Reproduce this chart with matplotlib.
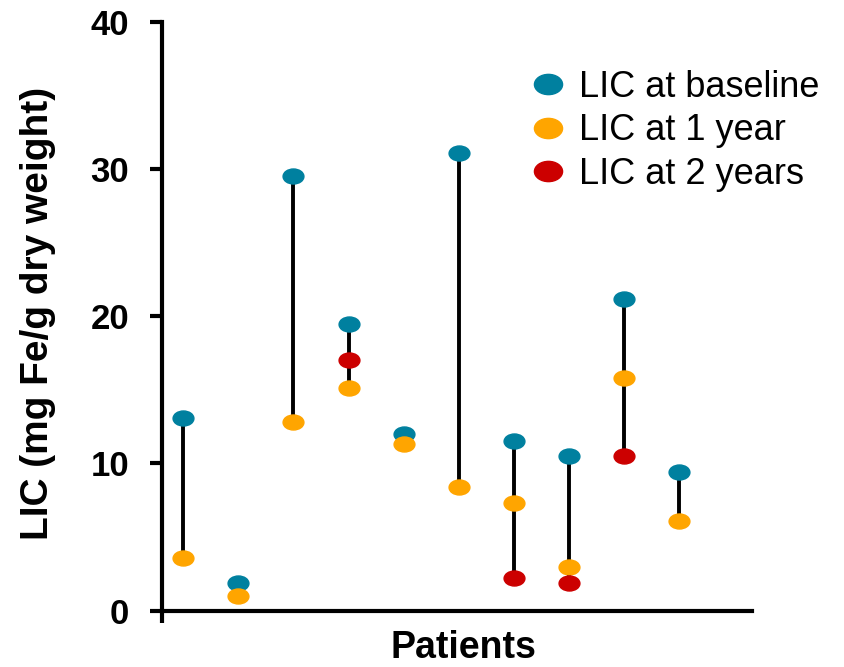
import matplotlib
matplotlib.use("Agg")
import matplotlib.pyplot as plt
import numpy as np
from matplotlib.path import Path

# ---- data (LIC, mg Fe/g dry weight) ----
patients = [1, 2, 3, 4, 5, 6, 7, 8, 9, 10]
lic_baseline = [13.1, 1.9, 29.5, 19.5, 12.0, 31.1, 11.5, 10.5, 21.2, 9.4]
lic_1year = [3.6, 1.0, 12.8, 15.1, 11.3, 8.4, 7.3, 3.0, 15.8, 6.1]
lic_2years = [None, None, None, 17.0, None, None, 2.2, 1.9, 10.5, None]

labels = ["LIC at baseline", "LIC at 1 year", "LIC at 2 years"]
colors = ["#00809F", "#FFA500", "#CC0000"]
yticks = [0, 10, 20, 30, 40]

plt.rcParams['font.family'] = ['Liberation Sans', 'DejaVu Sans']

# squashed circle marker (reference dots are wider than tall)
circ = Path.unit_circle()
ellipse = Path(circ.vertices * np.array([1.0, 0.72]), circ.codes)

fig = plt.figure(figsize=(8.44, 6.67), dpi=100)
ax = fig.add_axes([0.1916, 0.0844, 0.699, 0.8831])

# vertical connectors between min and max of each patient
lo, hi = [], []
for i in range(len(patients)):
    vals = [v for v in (lic_baseline[i], lic_1year[i], lic_2years[i]) if v is not None]
    lo.append(min(vals))
    hi.append(max(vals))
ax.vlines(patients, lo, hi, color="black", lw=2.8, zorder=1)

series = [lic_baseline, lic_1year, lic_2years]
for s, lab, c in zip(series, labels, colors):
    xs = [p for p, v in zip(patients, s) if v is not None]
    ys = [v for v in s if v is not None]
    ax.plot(xs, ys, ls="none", marker=ellipse, ms=15, color=c,
            mec=c, label=lab, zorder=3, clip_on=False)

xleft = 0.608
ax.set_xlim(xleft, 11.32)
ax.set_ylim(0, 40)
ax.set_yticks(yticks)
ax.set_xticks([xleft])
ax.set_xticklabels([""])

for side in ["top", "right"]:
    ax.spines[side].set_visible(False)
for side in ["left", "bottom"]:
    ax.spines[side].set_linewidth(3)
ax.tick_params(axis="both", length=8.6, width=3, direction="out")
ax.tick_params(axis="y", pad=15, labelsize=25)
for t in ax.get_yticklabels():
    t.set_fontweight("bold")

ax.set_ylabel("LIC (mg Fe/g dry weight)", fontsize=28, fontweight="bold")
ax.yaxis.set_label_coords(-0.18, 0.504)
ax.set_xlabel("Patients", fontsize=27, fontweight="bold")
ax.xaxis.set_label_coords(0.512, -0.032)

ax.legend(loc="upper left", bbox_to_anchor=(0.632, 0.895),
          bbox_transform=fig.transFigure, frameon=False, fontsize=26,
          markerscale=1.35, handlelength=0.8, handletextpad=0.46,
          labelspacing=0.23, borderpad=0, borderaxespad=0)

fig.savefig("out.png", dpi=100)
